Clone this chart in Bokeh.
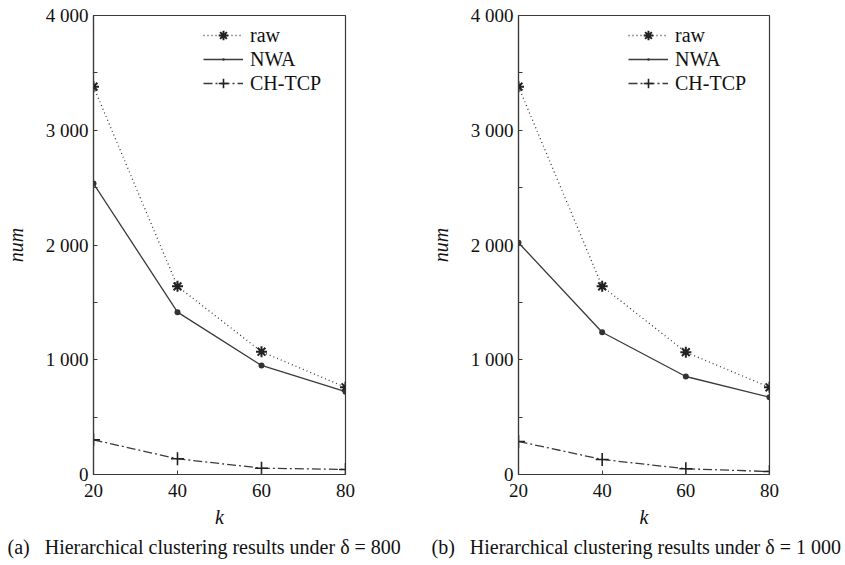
from bokeh.plotting import figure
from bokeh.layouts import row
from bokeh.models import Legend, LegendItem, Title, FixedTicker
from bokeh.embed import file_html
from bokeh.resources import INLINE

k = [20, 40, 60, 80]
raw_a = [3380, 1640, 1070, 760]
nwa_a = [2535, 1415, 950, 722]
chtcp_a = [302, 137, 55, 44]
raw_b = [3380, 1640, 1066, 760]
nwa_b = [2020, 1240, 854, 674]
chtcp_b = [288, 131, 50, 26]
y_ticks = [0, 1000, 2000, 3000, 4000]
y_minor = [500, 1500, 2500, 3500]
y_tick_labels = ["0", "1 000", "2 000", "3 000", "4 000"]
x_ticks = [20, 40, 60, 80]
NB = "\u00a0"
captions = ["(a)" + NB * 3 + "Hierarchical clustering results under \u03b4" + NB + "=" + NB + "800",
            "(b)" + NB * 3 + "Hierarchical clustering results under \u03b4" + NB + "=" + NB + "1" + NB + "000"]

FONT = "Liberation Serif"
INK = "#3a3a3a"


def make(raw, nwa, ch, caption, width, bl, br, cap_off):
    p = figure(width=width, height=565, x_range=(20, 80), y_range=(0, 4000),
               output_backend="svg", toolbar_location=None,
               min_border_left=bl, min_border_right=br,
               min_border_top=15, min_border_bottom=91)
    p.outline_line_color = INK
    p.outline_line_width = 1.2
    p.grid.visible = False
    p.background_fill_color = "white"
    p.border_fill_color = "white"

    p.yaxis.ticker = FixedTicker(ticks=y_ticks, minor_ticks=y_minor)
    p.yaxis.major_label_overrides = {t: l.replace(" ", NB) for t, l in zip(y_ticks, y_tick_labels)}
    p.xaxis.ticker = FixedTicker(ticks=x_ticks, minor_ticks=[])
    for ax in (p.xaxis[0], p.yaxis[0]):
        ax.axis_line_color = INK
        ax.axis_line_width = 1.2
        ax.major_tick_in = 4
        ax.major_tick_out = 0
        ax.minor_tick_in = 4
        ax.minor_tick_out = 0
        ax.major_tick_line_color = INK
        ax.minor_tick_line_color = INK
        ax.major_label_text_font = FONT
        ax.major_label_text_font_size = "19px"
        ax.major_label_text_color = "#111111"
        ax.axis_label_text_font = FONT
        ax.axis_label_text_font_style = "italic"
        ax.axis_label_text_font_size = "20px"
        ax.axis_label_text_color = "#111111"
    p.yaxis.major_label_standoff = 5
    p.xaxis.major_label_standoff = 9
    p.xaxis.axis_label = "k"
    p.yaxis.axis_label = "num"
    p.xaxis.axis_label_standoff = 6
    p.yaxis.axis_label_standoff = 16

    r1 = p.line(k, raw, line_color=INK, line_width=1.3, line_dash="1 3")
    m1 = p.scatter(k, raw, marker="asterisk", size=11, line_color="#222222", line_width=2)
    r2 = p.line(k, nwa, line_color=INK, line_width=1.3)
    m2 = p.scatter(k, nwa, marker="dot", size=24, fill_color="#333333", line_color="#333333")
    r3 = p.line(k, ch, line_color=INK, line_width=1.3, line_dash="9 3 2 3")
    m3 = p.scatter(k, ch, marker="cross", size=13, line_color="#222222", line_width=1.6)

    legend = Legend(items=[LegendItem(label="raw", renderers=[r1, m1]),
                           LegendItem(label="NWA", renderers=[r2, m2]),
                           LegendItem(label="CH-TCP", renderers=[r3, m3])],
                    location=(110, 379))
    legend.border_line_color = None
    legend.background_fill_alpha = 0
    legend.label_text_font = FONT
    legend.label_text_font_size = "20px"
    legend.label_text_color = "#111111"
    legend.glyph_width = 40
    legend.glyph_height = 24
    legend.label_standoff = 7
    legend.spacing = 0
    legend.padding = 4
    legend.margin = 0
    p.add_layout(legend, "center")

    t = Title(text=caption, align="left", offset=cap_off, text_font=FONT, text_font_size="20px",
              text_font_style="normal", text_color="#111111", standoff=7)
    p.add_layout(t, "below")
    return p


pa = make(raw_a, nwa_a, chtcp_a, captions[0], 420, 93, 75, -86)
pb = make(raw_b, nwa_b, chtcp_b, captions[1], 425, 98, 76, -87)
layout = row(pa, pb, spacing=0)
open("out.html", "w").write(file_html(layout, INLINE))
